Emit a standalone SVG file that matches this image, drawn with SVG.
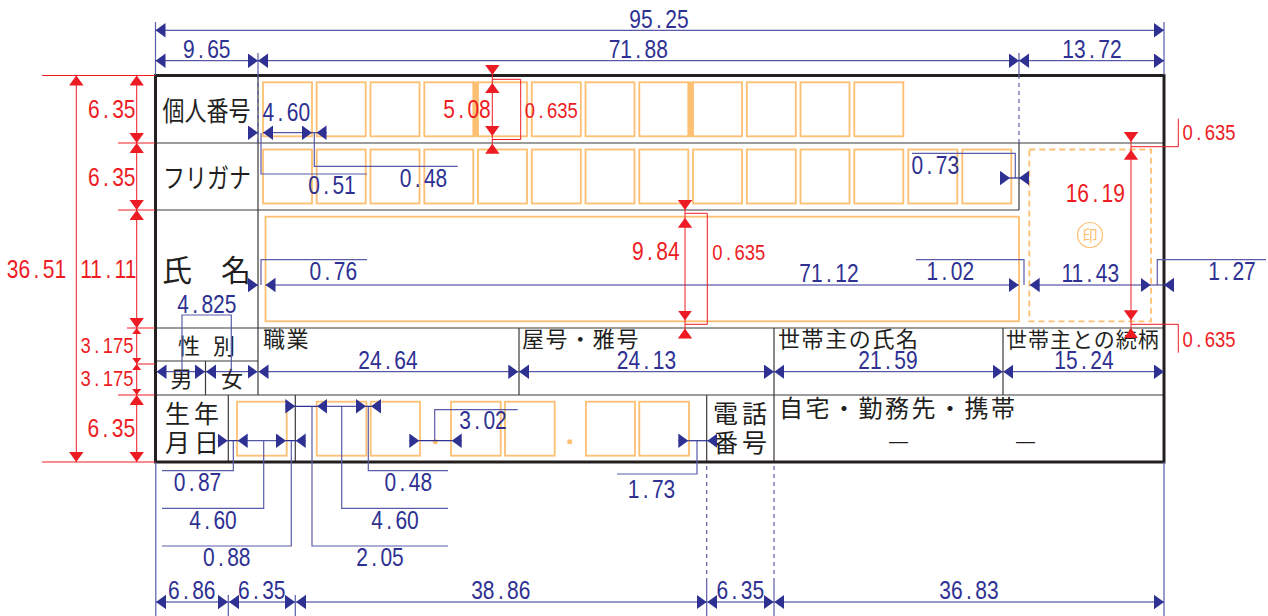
<svg xmlns="http://www.w3.org/2000/svg" width="1268" height="616" viewBox="0 0 1268 616">
<style>
text{font-family:"Liberation Sans",sans-serif}
.j{font-family:"Noto Sans CJK JP",sans-serif;fill:#231f20}
.j22{font-size:22px}.j21{font-size:22px;letter-spacing:1.6px}.j25{font-size:25px}.j30{font-size:30px}
.bt,.rt{font-size:25px;text-anchor:middle;transform-box:fill-box;transform-origin:center;transform:scaleX(.84)}
.bt{fill:#2e3192}
.rt{fill:#ed1c24}
.rt.rs{font-size:22px}
.f{fill:none;stroke:#fdbf71;stroke-width:1.8}
.o{fill:#fdbf71}
.frame{fill:none;stroke:#231f20;stroke-width:3}
.g{fill:none;stroke:#3a3a3a;stroke-width:1.2}
.b,.bx,.bd{fill:none;stroke:#2e3192;stroke-width:1}
.b{marker-start:url(#ab);marker-end:url(#ab)}
.be{fill:none;stroke:#2e3192;stroke-width:1;marker-end:url(#ab)}
.bx{stroke:#5a5ca8;stroke-width:1.2}
.bd{stroke:#5a5ca8;stroke-width:1.2;stroke-dasharray:4 4}
.r,.rx,.re{fill:none;stroke:#ed1c24;stroke-width:1}
.r{marker-start:url(#ar);marker-end:url(#ar)}
.re{marker-end:url(#ar)}
.rm{fill:none;stroke:#ed1c24;stroke-width:1;marker-start:url(#am);marker-end:url(#am)}
</style>
<defs>
<marker id="ab" markerUnits="userSpaceOnUse" markerWidth="11" markerHeight="15" refX="10" refY="7.2" orient="auto-start-reverse"><path d="M0 0L10 7.2L0 14.4Z" fill="#2e3192"/></marker>
<marker id="ar" markerUnits="userSpaceOnUse" markerWidth="11" markerHeight="15" refX="10" refY="7.2" orient="auto-start-reverse"><path d="M0 0L10 7.2L0 14.4Z" fill="#ed1c24"/></marker>
<marker id="am" markerUnits="userSpaceOnUse" markerWidth="7" markerHeight="10" refX="6" refY="4.5" orient="auto-start-reverse"><path d="M0 0L6 4.5L0 9Z" fill="#ed1c24"/></marker>
</defs>
<rect width="1268" height="616" fill="#fff"/>

<g id="form-grid">
<path class="g" d="M155 143H1164M155 210H1019M155 328H1164M155 395H1164M258 75V395M1019 143V210M519 328V395M774 328V395M1003 328V395M155 361H258M205.500 361V395M228.300 395V462M295.300 395V462M706.700 395V462M774 395V462"/>
<rect class="frame" x="155.500" y="75.500" width="1008.500" height="386.500"/>
</g>

<g id="node-kojin-bango">
<text class="j" x="162.500" y="121" font-size="27" textLength="88" lengthAdjust="spacingAndGlyphs">個人番号</text>
<g class="f"><rect x="263" y="82.300" width="49" height="54"/><rect x="316.700" y="82.300" width="49" height="54"/><rect x="370.500" y="82.300" width="49" height="54"/><rect x="424.300" y="82.300" width="49" height="54"/><rect x="478" y="82.300" width="49" height="54"/><rect x="531.800" y="82.300" width="49" height="54"/><rect x="585.500" y="82.300" width="49" height="54"/><rect x="639.300" y="82.300" width="49" height="54"/><rect x="693" y="82.300" width="49" height="54"/><rect x="746.800" y="82.300" width="49" height="54"/><rect x="800.500" y="82.300" width="49" height="54"/><rect x="854.300" y="82.300" width="49" height="54"/></g>
<rect class="o" x="473" y="81.500" width="5" height="55.500"/><rect class="o" x="688" y="81.500" width="5" height="55.500"/>
</g>

<g id="node-furigana">
<text class="j" x="163" y="188" font-size="27" textLength="88" lengthAdjust="spacingAndGlyphs">フリガナ</text>
<g class="f"><rect x="263" y="149.500" width="49" height="54"/><rect x="316.700" y="149.500" width="49" height="54"/><rect x="370.500" y="149.500" width="49" height="54"/><rect x="424.300" y="149.500" width="49" height="54"/><rect x="478" y="149.500" width="49" height="54"/><rect x="531.800" y="149.500" width="49" height="54"/><rect x="585.500" y="149.500" width="49" height="54"/><rect x="639.300" y="149.500" width="49" height="54"/><rect x="693" y="149.500" width="49" height="54"/><rect x="746.800" y="149.500" width="49" height="54"/><rect x="800.500" y="149.500" width="49" height="54"/><rect x="854.300" y="149.500" width="49" height="54"/><rect x="908.300" y="149.500" width="49" height="54"/><rect x="962.300" y="149.500" width="49" height="54"/></g>
</g>

<g id="node-shimei">
<text class="j j30" x="162" y="281">氏</text><text class="j j30" x="221" y="281">名</text>
<rect class="f" x="265.500" y="216.700" width="753.500" height="104.600"/>
</g>

<g id="node-seal">
<rect class="f" x="1029.300" y="149.500" width="121.700" height="171.800" stroke-dasharray="6 4"/>
<circle class="f" cx="1090" cy="235" r="12.500" style="stroke-width:1.2"/>
<text class="j" x="1090" y="240.500" font-size="15" text-anchor="middle" style="fill:#fdbf71">印</text>
</g>

<g id="node-seibetsu">
<text class="j j22" x="178" y="354">性</text><text class="j j22" x="213" y="354">別</text>
<text class="j j22" x="170.500" y="387">男</text><text class="j j22" x="221" y="387">女</text>
</g>

<g id="node-shokugyo"><text class="j j21" x="263" y="346.500">職業</text></g>
<g id="node-yago"><text class="j j21" x="522" y="346.500">屋号・雅号</text></g>
<g id="node-setainushi"><text class="j j21" x="778" y="346.500">世帯主の氏名</text></g>
<g id="node-zokugara"><text class="j" x="1006" y="346.500" font-size="21" letter-spacing="1">世帯主との続柄</text></g>

<g id="node-seinengappi">
<text class="j j25" x="165" y="423">生</text><text class="j j25" x="194" y="423">年</text>
<text class="j j25" x="165" y="452">月</text><text class="j j25" x="194" y="452">日</text>
<g class="f"><rect x="237" y="401.700" width="49.700" height="54"/><rect x="316.700" y="401.700" width="49.700" height="54"/><rect x="370.700" y="401.700" width="49.300" height="54"/><rect x="451" y="401.700" width="49.700" height="54"/><rect x="505" y="401.700" width="49.700" height="54"/><rect x="586" y="401.700" width="49" height="54"/><rect x="639.300" y="401.700" width="49.700" height="54"/></g>
<circle class="o" cx="435.300" cy="441.700" r="2.500"/><circle class="o" cx="569.700" cy="441.700" r="2.500"/>
</g>

<g id="node-denwa">
<text class="j j25" x="713" y="423">電</text><text class="j j25" x="742" y="423">話</text>
<text class="j j25" x="713" y="452">番</text><text class="j j25" x="742" y="452">号</text>
</g>

<g id="node-jitaku">
<text class="j" x="779" y="417" font-size="24" letter-spacing="2.500">自宅・勤務先・携帯</text>
<text class="j" x="889" y="447" font-size="19" style="font-family:'Liberation Sans'">—</text>
<text class="j" x="1016" y="447" font-size="19" style="font-family:'Liberation Sans'">—</text>
</g>

<g id="connectors">
<path class="bx" d="M155.500 22V75M1164 22V75M258 53V75M1019 53V75M155.800 462V616M1164 462V616M228.300 595V616M295.300 595V616M706.700 580V616M774 580V616"/>
<path class="bd" d="M258 75V143M1019 75V143M706.700 466V580M774 466V580"/>
<path class="bx" d="M261 133V174H367M314.300 133V166.300H457.700M1015.300 178V153.300H912M261 285V259.700H367M1024 285V259.700H916M1157.300 285V259.700H1266M182 372V315H231.300V372M233.300 441V470.700H162M263.700 441V508.300H162M291.300 441V546H162M312 406V546H448M341.700 406V508.300H448M368.300 406V470.700H448M434.700 441V409.700H517.700M697 441V474H617"/>
<path class="b" d="M155.500 30.300H1164"/>
<path class="b" d="M155.500 60.700H258"/><path class="b" d="M258 60.700H1019"/><path class="b" d="M1019 60.700H1164"/>
<path class="be" d="M248 132.700H258"/><path class="b" d="M263 132.700H312"/><path class="be" d="M312 132.700H316.500M327 132.700H316.500"/>
<path class="be" d="M1000.700 178H1010"/><path class="be" d="M1029 178H1019"/><path class="bx" style="stroke:#2e3192" d="M1010 178H1019"/>
<path class="be" d="M248 285H258"/><path class="b" d="M265.500 285H1018.700"/><path class="b" d="M1029.700 285H1150.700"/><path class="be" d="M1150.700 285H1164M1174 285H1164"/>
<path class="b" d="M156.500 371.700H205"/><path class="b" d="M206 371.700H257.500"/><path class="b" d="M258.500 371.700H518.300"/><path class="b" d="M519 371.700H774"/><path class="b" d="M774.300 371.700H1002.700"/><path class="b" d="M1003.300 371.700H1164"/>
<path class="be" d="M217.700 440.700H227.700"/><path class="b" d="M237.700 440.700H286"/><path class="be" d="M305.700 440.700H295.700"/><path class="bx" style="stroke:#2e3192" d="M227.700 440.700H237.700M286 440.700H295.700"/>
<path class="be" d="M285.300 406.300H295.300"/><path class="b" d="M317 406.300H366"/><path class="be" d="M381 406.300H371"/><path class="bx" style="stroke:#2e3192" d="M295.300 406.300H317M366 406.300H371"/>
<path class="be" d="M409.300 440.700H419.300"/><path class="be" d="M461.700 440.700H451.700"/><path class="bx" style="stroke:#2e3192" d="M419.300 440.700H451.700"/>
<path class="be" d="M678.300 440.700H688.300"/><path class="be" d="M717.300 440.700H707.300"/><path class="bx" style="stroke:#2e3192" d="M688.300 440.700H707.300"/>
<path class="b" d="M156 602H228"/><path class="b" d="M229 602H295"/><path class="b" d="M296 602H706.700"/><path class="b" d="M707.300 602H773.700"/><path class="b" d="M774.300 602H1164"/>
<path class="rx" d="M42 75.500H155M42 462H155M118 143H155M118 210H155M127 328H155M136.700 364H155M118 395H155"/>
<path class="rx" d="M492.300 79.300H520.700V139.500H492.300M685 213.300H707.300V324.300H685M1131 146.700H1178.300V118.700M1131 324.300H1178.300V352.700"/>
<path class="r" d="M76.300 75.500V462"/>
<path class="r" d="M136.700 75.500V143"/><path class="r" d="M136.700 143V210"/><path class="r" d="M136.700 210V328"/>
<path class="rm" d="M136.700 328V364"/><path class="rm" d="M136.700 364V395"/><path class="r" d="M136.700 395V462"/>
<path class="re" d="M492.300 65.300V75"/><path class="rx" d="M492.300 75V83"/><path class="r" d="M492.300 83V136"/><path class="rx" d="M492.300 136V143.700"/><path class="re" d="M492.300 153.700V143.700"/>
<path class="re" d="M685 200V210"/><path class="rx" d="M685 210V217.700"/><path class="r" d="M685 217.700V320.500"/><path class="rx" d="M685 320.500V328.500"/><path class="re" d="M685 338.500V328.500"/>
<path class="re" d="M1131 132.300V142"/><path class="rx" d="M1131 142V149.700"/><path class="r" d="M1131 149.700V320.300"/><path class="rx" d="M1131 320.300V328.300"/><path class="re" d="M1131 338.300V328.300"/>
</g>

<g id="dimension-labels">
<text class="bt" x="659" y="28" dx="0 0 4 4">95.25</text>
<text class="bt" x="206.700" y="58" dx="0 4 4">9.65</text>
<text class="bt" x="638.300" y="58" dx="0 0 4 4">71.88</text>
<text class="bt" x="1092" y="58" dx="0 0 4 4">13.72</text>
<text class="bt" x="286.300" y="121" dx="0 4 4">4.60</text>
<text class="bt" x="332" y="194" dx="0 4 4">0.51</text>
<text class="bt" x="423.500" y="187" dx="0 4 4">0.48</text>
<text class="bt" x="935.300" y="174" dx="0 4 4">0.73</text>
<text class="bt" x="333.300" y="280" dx="0 4 4">0.76</text>
<text class="bt" x="829" y="282" dx="0 0 4 4">71.12</text>
<text class="bt" x="950.300" y="280" dx="0 4 4">1.02</text>
<text class="bt" x="1090.300" y="282" dx="0 0 4 4">11.43</text>
<text class="bt" x="1232" y="280" dx="0 4 4">1.27</text>
<text class="bt" x="206.800" y="313" dx="0 4 4">4.825</text>
<text class="bt" x="388" y="369" dx="0 0 4 4">24.64</text>
<text class="bt" x="646.500" y="369" dx="0 0 4 4">24.13</text>
<text class="bt" x="888" y="369" dx="0 0 4 4">21.59</text>
<text class="bt" x="1084" y="369" dx="0 0 4 4">15.24</text>
<text class="bt" x="197.500" y="491" dx="0 4 4">0.87</text>
<text class="bt" x="213" y="529" dx="0 4 4">4.60</text>
<text class="bt" x="226.700" y="566" dx="0 4 4">0.88</text>
<text class="bt" x="408.300" y="491" dx="0 4 4">0.48</text>
<text class="bt" x="395" y="529" dx="0 4 4">4.60</text>
<text class="bt" x="380" y="566" dx="0 4 4">2.05</text>
<text class="bt" x="483" y="429" dx="0 4 4">3.02</text>
<text class="bt" x="651.500" y="498" dx="0 4 4">1.73</text>
<text class="bt" x="191.700" y="599" dx="0 4 4">6.86</text>
<text class="bt" x="261.700" y="599" dx="0 4 4">6.35</text>
<text class="bt" x="500.800" y="599" dx="0 0 4 4">38.86</text>
<text class="bt" x="740.300" y="599" dx="0 4 4">6.35</text>
<text class="bt" x="969" y="599" dx="0 0 4 4">36.83</text>
<text class="rt" x="111.700" y="118" dx="0 4 4">6.35</text>
<text class="rt" x="111.700" y="185.700" dx="0 4 4">6.35</text>
<text class="rt" x="36.500" y="277.700" dx="0 0 4 4">36.51</text>
<text class="rt" x="108.300" y="277.700" dx="0 0 4 4">11.11</text>
<text class="rt rs" x="107" y="352.700" dx="0 4 4">3.175</text>
<text class="rt rs" x="107" y="385.700" dx="0 4 4">3.175</text>
<text class="rt" x="111.300" y="437.300" dx="0 4 4">6.35</text>
<text class="rt" x="467" y="118" dx="0 4 4">5.08</text>
<text class="rt rs" x="551.300" y="118" dx="0 4 4">0.635</text>
<text class="rt" x="655.800" y="260" dx="0 4 4">9.84</text>
<text class="rt rs" x="738.800" y="260" dx="0 4 4">0.635</text>
<text class="rt rs" x="1209" y="140" dx="0 4 4">0.635</text>
<text class="rt" x="1095.300" y="201.700" dx="0 0 4 4">16.19</text>
<text class="rt rs" x="1209" y="347" dx="0 4 4">0.635</text>
</g>
</svg>
